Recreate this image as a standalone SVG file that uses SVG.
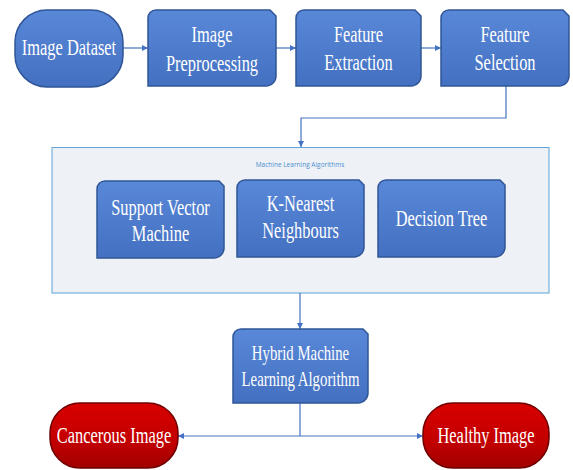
<svg xmlns="http://www.w3.org/2000/svg" width="573" height="470" viewBox="0 0 573 470">
<defs>
<linearGradient id="gb" x1="0" y1="0" x2="0" y2="1">
<stop offset="0" stop-color="#5a88d8"/>
<stop offset="1" stop-color="#4370c0"/>
</linearGradient>
<linearGradient id="gr" x1="0" y1="0" x2="0" y2="1">
<stop offset="0" stop-color="#d80000"/>
<stop offset="0.6" stop-color="#c20000"/>
<stop offset="1" stop-color="#a00000"/>
</linearGradient>
<marker id="ah" viewBox="0 0 10 10" refX="10" refY="5" markerWidth="5" markerHeight="5" orient="auto-start-reverse">
<path d="M0,0 L10,5 L0,10 Z" fill="#4472c4"/>
</marker>
</defs>
<style>
.blue{fill:url(#gb);stroke:#2f5597;stroke-width:1.5}
.red{fill:url(#gr);stroke:#6e0000;stroke-width:1.5}
.t{font-family:"Liberation Serif","Times New Roman",serif;fill:#ffffff;text-anchor:middle}
.c{fill:none;stroke:#4472c4;stroke-width:1.2}
</style>
<rect width="573" height="470" fill="#ffffff"/>

<g id="ml-container">
<rect x="52" y="147.5" width="497" height="145.5" fill="#eef1f6" stroke="#5ba3d9" stroke-width="1"/>
<text x="300" y="167" font-family="Open Sans, Liberation Sans, sans-serif" font-size="6.5" fill="#4a8fd0" text-anchor="middle">Machine Learning Algorithms</text>
</g>

<g id="connectors">
<line class="c" x1="123" y1="48" x2="148" y2="48" marker-end="url(#ah)"/>
<line class="c" x1="276" y1="48" x2="296" y2="48" marker-end="url(#ah)"/>
<line class="c" x1="421" y1="48" x2="441" y2="48" marker-end="url(#ah)"/>
<polyline class="c" points="506,86 506,118 301,118 301,147" marker-end="url(#ah)"/>
<line class="c" x1="300" y1="293" x2="300" y2="329" marker-end="url(#ah)"/>
<line class="c" x1="300" y1="403" x2="300" y2="436"/>
<line class="c" x1="300" y1="436" x2="178" y2="436" marker-end="url(#ah)"/>
<line class="c" x1="300" y1="436" x2="423" y2="436" marker-end="url(#ah)"/>
</g>

<g id="image-dataset">
<rect class="blue" x="15" y="10" width="108" height="77" rx="32" ry="32"/>
<text class="t" font-size="22.5" transform="translate(69,55) scale(0.73,1)">Image Dataset</text>
</g>

<g id="image-preprocessing">
<path class="blue" d="M148,86 V18 A8,8 0 0 1 156,10 H270 L276,16 V76 A10,10 0 0 1 266,86 Z"/>
<text class="t" font-size="22.5" transform="translate(212,0) scale(0.73,1)"><tspan x="0" y="42">Image</tspan><tspan x="0" y="71">Preprocessing</tspan></text>
</g>

<g id="feature-extraction">
<path class="blue" d="M296,86 V18 A8,8 0 0 1 304,10 H415 L421,16 V76 A10,10 0 0 1 411,86 Z"/>
<text class="t" font-size="22.5" transform="translate(358.5,0) scale(0.73,1)"><tspan x="0" y="42">Feature</tspan><tspan x="0" y="70">Extraction</tspan></text>
</g>

<g id="feature-selection">
<path class="blue" d="M441,86 V18 A8,8 0 0 1 449,10 H563 L569,16 V76 A10,10 0 0 1 559,86 Z"/>
<text class="t" font-size="22.5" transform="translate(505,0) scale(0.73,1)"><tspan x="0" y="42">Feature</tspan><tspan x="0" y="70">Selection</tspan></text>
</g>

<g id="svm">
<path class="blue" d="M97,258 V189 A8,8 0 0 1 105,181 H219 L224,186 V248 A10,10 0 0 1 214,258 Z"/>
<text class="t" font-size="22.5" transform="translate(160.5,0) scale(0.73,1)"><tspan x="0" y="215">Support Vector</tspan><tspan x="0" y="241">Machine</tspan></text>
</g>

<g id="knn">
<path class="blue" d="M237,257 V188 A8,8 0 0 1 245,180 H359 L364,185 V247 A10,10 0 0 1 354,257 Z"/>
<text class="t" font-size="22.5" transform="translate(300.5,0) scale(0.73,1)"><tspan x="0" y="211">K-Nearest</tspan><tspan x="0" y="238">Neighbours</tspan></text>
</g>

<g id="decision-tree">
<path class="blue" d="M378,257 V188 A8,8 0 0 1 386,180 H500 L505,185 V247 A10,10 0 0 1 495,257 Z"/>
<text class="t" font-size="22.5" transform="translate(441.5,226) scale(0.73,1)">Decision Tree</text>
</g>

<g id="hybrid">
<path class="blue" d="M233,403 V337 A8,8 0 0 1 241,329 H363 L368,334 V393 A10,10 0 0 1 358,403 Z"/>
<text class="t" font-size="20" transform="translate(300.5,0) scale(0.74,1)"><tspan x="0" y="360">Hybrid Machine</tspan><tspan x="0" y="386">Learning Algorithm</tspan></text>
</g>

<g id="cancerous-image">
<rect class="red" x="50" y="403" width="128" height="65" rx="30" ry="30"/>
<text class="t" font-size="22.5" transform="translate(114,443) scale(0.73,1)">Cancerous Image</text>
</g>

<g id="healthy-image">
<rect class="red" x="423" y="403" width="126" height="65" rx="30" ry="30"/>
<text class="t" font-size="22.5" transform="translate(486,443) scale(0.73,1)">Healthy Image</text>
</g>
</svg>
